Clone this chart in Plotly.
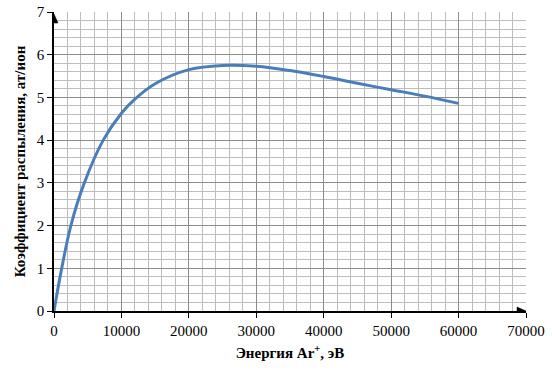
import plotly.graph_objects as go

energy = [0, 1000, 2500, 4500, 7300, 10000, 12000, 15000, 20000, 25000, 30000,
          35000, 40000, 45000, 50000, 55000, 60000]
sputter = [0, 0.88, 2.0, 3.0, 4.0, 4.63, 4.96, 5.32, 5.65, 5.75, 5.73,
           5.63, 5.49, 5.33, 5.18, 5.03, 4.86]

x_ticks = [0, 10000, 20000, 30000, 40000, 50000, 60000, 70000]
y_ticks = [0, 1, 2, 3, 4, 5, 6, 7]

font_family = "Liberation Serif"

fig = go.Figure()
fig.add_trace(go.Scatter(
    x=energy, y=sputter, mode="lines",
    line=dict(color="#4a7ebb", width=3, shape="spline", smoothing=1.0),
    showlegend=False, hoverinfo="skip",
))

fig.update_layout(
    width=552, height=370,
    margin=dict(l=54, r=26, t=12, b=59),
    paper_bgcolor="white", plot_bgcolor="white",
    font=dict(family=font_family, size=15, color="black"),
    xaxis=dict(
        range=[0, 70000], tickvals=x_ticks, ticktext=[str(v) for v in x_ticks],
        showgrid=True, gridcolor="#8c8c8c", gridwidth=1,
        minor=dict(dtick=2000, tick0=0, showgrid=True, gridcolor="#bdbdbd", gridwidth=1, ticks=""),
        showline=True, linecolor="black", linewidth=1.5,
        ticks="outside", ticklen=5, tickcolor="black", tickwidth=1,
        zeroline=False, fixedrange=True, automargin=False,
        tickfont=dict(family=font_family, size=15),
        title=dict(text="<b>Энергия Ar<sup>+</sup>, эВ</b>", font=dict(family=font_family, size=15), standoff=10),
    ),
    yaxis=dict(
        range=[0, 7], tickvals=y_ticks, ticktext=[str(v) for v in y_ticks],
        showgrid=True, gridcolor="#8c8c8c", gridwidth=1,
        minor=dict(dtick=0.2, tick0=0, showgrid=True, gridcolor="#bdbdbd", gridwidth=1, ticks=""),
        showline=True, linecolor="black", linewidth=1.5,
        ticks="outside", ticklen=5, tickcolor="black", tickwidth=1,
        zeroline=False, fixedrange=True, automargin=False,
        tickfont=dict(family=font_family, size=15),
        title=dict(text="<b>Коэффициент распыления, ат/ион</b>", font=dict(family=font_family, size=15), standoff=8),
    ),
)

# axis arrows (triangles in pixel size, anchored at axis ends)
fig.add_shape(type="path", xref="x", yref="y", xsizemode="pixel", ysizemode="pixel",
              xanchor=0, yanchor=7, path="M -4,-11 L 4,-11 L 0,-2 Z",
              fillcolor="black", line=dict(color="black", width=0.5), layer="above")
fig.add_shape(type="path", xref="x", yref="y", xsizemode="pixel", ysizemode="pixel",
              xanchor=70000, yanchor=0, path="M -9,-4 L -9,4 L 0,0 Z",
              fillcolor="black", line=dict(color="black", width=0.5), layer="above")

fig.write_html("out.html")
